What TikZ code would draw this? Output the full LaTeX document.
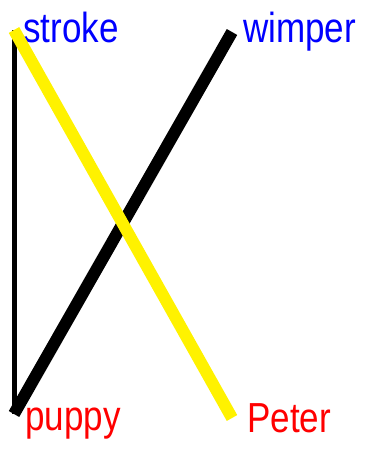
\documentclass[tikz,border=0pt]{standalone}
\usepackage{fontspec}
\setmainfont{Liberation Sans}
\tikzset{
  word/.style={inner sep=0pt, anchor=base west, yscale=1.2, font=\fontsize{35}{35}\selectfont},
  bar/.style={line width=12pt}
}
\begin{document}
\begin{tikzpicture}[x=1pt,y=-1pt]
        \useasboundingbox (0,0) rectangle (365,452);
        % ends
        \coordinate (st) at (14,30);\coordinate (wi) at (232,32);
        \coordinate (pu) at (14,414);\coordinate (pe) at (232,418);
        % words
        \node [word, text=blue] (stroke) at (23,43) {stroke};
        \node [word, text=blue] (wimper) at (243,43) {wimper};
        \node [word, text=red] (puppy) at (25,430) {puppy};
        \node [word, text=red] (peter) at (247,432) {Peter};
        % line
        \draw [line width=5pt] (st) -- (pu);
        \draw [bar, black] (pu) -- (wi);
        \draw [bar, yellow] (st) -- (pe);
    \end{tikzpicture}
\end{document}
